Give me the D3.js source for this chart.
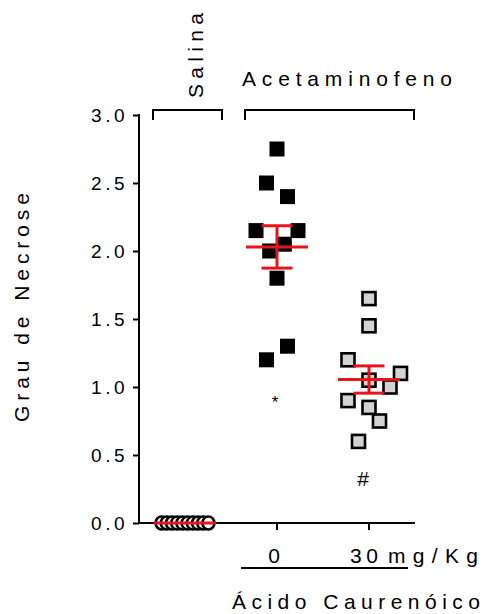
<!DOCTYPE html>
<html>
<head>
<meta charset="utf-8">
<script src="https://cdn.jsdelivr.net/npm/d3@7"></script>
<style>
  body { margin: 0; background: #fff; }
  svg { font-family: "Liberation Sans", Arial, sans-serif; }
</style>
</head>
<body>
<svg id="chart" width="485" height="614"></svg>
<script>
// groups on the x axis
const groups = ["Salina", "0", "30"];

// individual scores per group (Grau de Necrose)
const salina = [0, 0, 0, 0, 0, 0, 0, 0, 0, 0];
const acet0 = [2.75, 2.5, 2.4, 2.15, 2.15, 2.05, 2.0, 1.8, 1.3, 1.2];
const acet30 = [1.65, 1.45, 1.2, 1.1, 1.05, 1.0, 0.9, 0.85, 0.75, 0.6];

// horizontal spread slot of each point (scatter jitter units)
const salinaJit = [-4.5, -3.5, -2.5, -1.5, -0.5, 0.5, 1.5, 2.5, 3.5, 4.5];
const acet0Jit = [0, -1, 1, -2, 2, 0.7, -0.7, 0, 1, -1];
const acet30Jit = [0, 0, -2, 3, 0, 2, -2, 0, 1, -1];

const yTicks = [0, 0.5, 1.0, 1.5, 2.0, 2.5, 3.0];

const svg = d3.select("#chart");

const x = d3.scalePoint().domain(groups).range([139, 415]).padding(0.5);
const y = d3.scaleLinear().domain([0, 3]).range([523, 115]);
const jit = d3.scaleLinear().domain([-1, 1]).range([-10.5, 10.5]);

// y axis
const yAxis = svg.append("g")
  .attr("transform", "translate(139,0)")
  .call(d3.axisLeft(y).tickValues(yTicks).tickFormat(d3.format(".1f")).tickSize(6).tickSizeOuter(0));
yAxis.select(".domain").attr("stroke-width", 2).attr("d", `M0,${y(3) - 1}V${y(0) + 1}`);
yAxis.selectAll(".tick line").attr("stroke-width", 2);
yAxis.selectAll(".tick text")
  .attr("x", -11)
  .attr("dy", "0.36em")
  .style("font-size", "19px")
  .style("letter-spacing", "3.5px")
  .attr("fill", "#000");

// x axis line with ticks for the two doses
svg.append("line")
  .attr("x1", 138).attr("x2", 415)
  .attr("y1", y(0)).attr("y2", y(0))
  .attr("stroke", "#000").attr("stroke-width", 2);
svg.selectAll(".xtick")
  .data(groups.slice(1))
  .enter().append("line")
  .attr("x1", (d) => x(d)).attr("x2", (d) => x(d))
  .attr("y1", y(0)).attr("y2", y(0) + 7)
  .attr("stroke", "#000").attr("stroke-width", 2);

const all = [
  { g: "Salina", vals: salina, jit: salinaJit, shape: "circle" },
  { g: "0", vals: acet0, jit: acet0Jit, shape: "black" },
  { g: "30", vals: acet30, jit: acet30Jit, shape: "gray" },
];

all.forEach((grp) => {
  const pts = grp.vals.map((v, i) => ({ v: v, j: grp.jit[i] }));
  if (grp.shape === "circle") {
    svg.append("g").selectAll("ellipse")
      .data(pts).enter().append("ellipse")
      .attr("cx", (d) => x(grp.g) + d.j * 5.2)
      .attr("cy", (d) => y(d.v))
      .attr("rx", 6).attr("ry", 6.5)
      .attr("fill", "#fff")
      .attr("stroke", "#000")
      .attr("stroke-width", 2.6);
  } else {
    const s = grp.shape === "black" ? 15 : 13;
    svg.append("g").selectAll("rect")
      .data(pts).enter().append("rect")
      .attr("x", (d) => x(grp.g) + jit(d.j) - s / 2)
      .attr("y", (d) => y(d.v) - s / 2)
      .attr("width", s).attr("height", s)
      .attr("fill", grp.shape === "black" ? "#000" : "#d3d3d3")
      .attr("stroke", grp.shape === "black" ? "none" : "#000")
      .attr("stroke-width", 2.6);
  }

  // mean +/- SEM in red
  const m = d3.mean(grp.vals);
  const sem = d3.deviation(grp.vals) / Math.sqrt(grp.vals.length) || 0;
  const cx = x(grp.g);
  const red = svg.append("g").attr("stroke", "#e8141b").attr("stroke-width", 3);
  red.append("line")
    .attr("x1", cx - 31).attr("x2", cx + 31)
    .attr("y1", y(m)).attr("y2", y(m));
  if (sem > 0) {
    red.append("line")
      .attr("x1", cx).attr("x2", cx)
      .attr("y1", y(m + sem)).attr("y2", y(m - sem));
    [m + sem, m - sem].forEach((e) => {
      red.append("line")
        .attr("x1", cx - 15.5).attr("x2", cx + 15.5)
        .attr("y1", y(e)).attr("y2", y(e));
    });
  }
});

// significance marks
svg.append("text").attr("x", x("0") - 2).attr("y", 408)
  .attr("text-anchor", "middle").style("font-size", "17px").text("*");
svg.append("text").attr("x", x("30") - 6).attr("y", 486)
  .attr("text-anchor", "middle").style("font-size", "21px").text("#");

// top brackets
const bracket = (x1, x2) => {
  svg.append("path")
    .attr("d", `M${x1},120V110H${x2}V120`)
    .attr("fill", "none").attr("stroke", "#000").attr("stroke-width", 2);
};
bracket(153, 222);
bracket(245, 414);

svg.append("text")
  .attr("transform", "translate(203,98) rotate(-90)")
  .attr("textLength", 85).attr("lengthAdjust", "spacing")
  .style("font-size", "21px").text("Salina");
svg.append("text")
  .attr("x", 242).attr("y", 86)
  .attr("textLength", 210).attr("lengthAdjust", "spacing")
  .style("font-size", "21px").text("Acetaminofeno");

// y title
svg.append("text")
  .attr("transform", "translate(29,422) rotate(-90)")
  .attr("textLength", 229).attr("lengthAdjust", "spacing")
  .style("font-size", "21px").text("Grau de Necrose");

// dose labels
svg.append("text").attr("x", 274).attr("y", 563)
  .attr("text-anchor", "middle").style("font-size", "21px").text("0");
svg.append("text").attr("x", 350).attr("y", 563)
  .attr("textLength", 28).attr("lengthAdjust", "spacing")
  .style("font-size", "21px").text("30");
svg.append("text").attr("x", 388).attr("y", 563)
  .attr("textLength", 90).attr("lengthAdjust", "spacing")
  .style("font-size", "21px").text("mg/Kg");
svg.append("line")
  .attr("x1", 241).attr("x2", 408).attr("y1", 568).attr("y2", 568)
  .attr("stroke", "#000").attr("stroke-width", 2);
svg.append("text")
  .attr("x", 232).attr("y", 609)
  .attr("textLength", 248).attr("lengthAdjust", "spacing")
  .style("font-size", "21px").text("Ácido Caurenóico");
</script>
</body>
</html>
